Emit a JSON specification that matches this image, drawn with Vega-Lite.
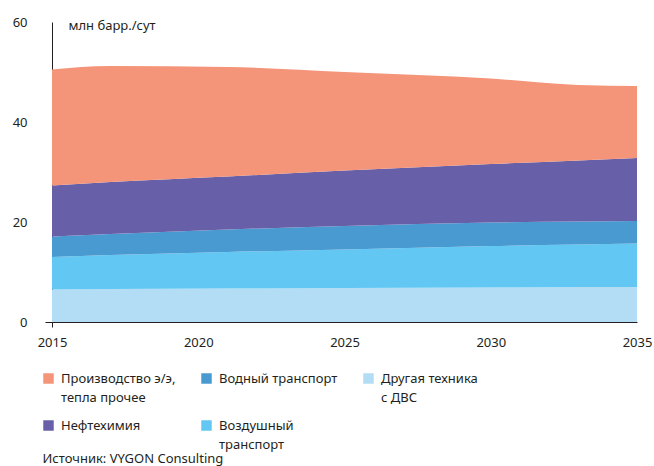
{
  "$schema": "https://vega.github.io/schema/vega-lite/v6.json",
  "width": 585,
  "height": 300,
  "autosize": {"type": "none"},
  "padding": {"left": 52, "top": 22, "right": 17, "bottom": 144},
  "background": "white",
  "config": {
    "view": {"stroke": null},
    "font": "Noto Sans",
    "style": {"guide-label": {"lineHeight": 19}}
  },
  "data": {
    "values": [
      {"year": 2015, "series": "Другая техника с ДВС", "value": 6.5},
      {"year": 2017, "series": "Другая техника с ДВС", "value": 6.6},
      {"year": 2021, "series": "Другая техника с ДВС", "value": 6.7},
      {"year": 2025, "series": "Другая техника с ДВС", "value": 6.8},
      {"year": 2030, "series": "Другая техника с ДВС", "value": 6.9},
      {"year": 2033, "series": "Другая техника с ДВС", "value": 7.0},
      {"year": 2035, "series": "Другая техника с ДВС", "value": 7.0},
      {"year": 2015, "series": "Воздушный транспорт", "value": 6.5},
      {"year": 2017, "series": "Воздушный транспорт", "value": 6.8},
      {"year": 2021, "series": "Воздушный транспорт", "value": 7.3},
      {"year": 2025, "series": "Воздушный транспорт", "value": 7.7},
      {"year": 2030, "series": "Воздушный транспорт", "value": 8.3},
      {"year": 2033, "series": "Воздушный транспорт", "value": 8.5},
      {"year": 2035, "series": "Воздушный транспорт", "value": 8.7},
      {"year": 2015, "series": "Водный транспорт", "value": 4.1},
      {"year": 2017, "series": "Водный транспорт", "value": 4.2},
      {"year": 2021, "series": "Водный транспорт", "value": 4.5},
      {"year": 2025, "series": "Водный транспорт", "value": 4.7},
      {"year": 2030, "series": "Водный транспорт", "value": 4.7},
      {"year": 2033, "series": "Водный транспорт", "value": 4.6},
      {"year": 2035, "series": "Водный транспорт", "value": 4.5},
      {"year": 2015, "series": "Нефтехимия", "value": 10.2},
      {"year": 2017, "series": "Нефтехимия", "value": 10.4},
      {"year": 2021, "series": "Нефтехимия", "value": 10.6},
      {"year": 2025, "series": "Нефтехимия", "value": 11.1},
      {"year": 2030, "series": "Нефтехимия", "value": 11.7},
      {"year": 2033, "series": "Нефтехимия", "value": 12.2},
      {"year": 2035, "series": "Нефтехимия", "value": 12.6},
      {"year": 2015, "series": "Производство э/э, тепла прочее", "value": 23.2},
      {"year": 2017, "series": "Производство э/э, тепла прочее", "value": 23.2},
      {"year": 2021, "series": "Производство э/э, тепла прочее", "value": 21.9},
      {"year": 2025, "series": "Производство э/э, тепла прочее", "value": 19.7},
      {"year": 2030, "series": "Производство э/э, тепла прочее", "value": 17.1},
      {"year": 2033, "series": "Производство э/э, тепла прочее", "value": 15.1},
      {"year": 2035, "series": "Производство э/э, тепла прочее", "value": 14.4}
    ]
  },
  "transform": [
    {"calculate": "indexof(['Другая техника с ДВС', 'Воздушный транспорт', 'Водный транспорт', 'Нефтехимия', 'Производство э/э, тепла прочее'], datum.series)", "as": "stackOrder"}
  ],
  "mark": {"type": "area", "interpolate": "monotone"},
  "encoding": {
    "x": {
      "field": "year",
      "type": "quantitative",
      "scale": {"domain": [2015, 2035], "nice": false, "zero": false},
      "axis": {
        "values": [2015, 2020, 2025, 2030, 2035],
        "format": "d",
        "grid": false,
        "labelFlush": false,
        "labelFontSize": 13,
        "labelColor": "#231F20",
        "labelPadding": 9,
        "tickSize": 5,
        "tickColor": {"condition": {"test": "datum.value == 2015", "value": "#231F20"}, "value": "transparent"},
        "domainColor": "#231F20",
        "title": "Источник: VYGON Consulting",
        "titleX": -10,
        "titleY": 136,
        "titleAlign": "left",
        "titleBaseline": "middle",
        "titleFontWeight": "normal",
        "titleFontSize": 13,
        "titleColor": "#231F20"
      }
    },
    "y": {
      "field": "value",
      "type": "quantitative",
      "stack": "zero",
      "scale": {"domain": [0, 60], "nice": false},
      "axis": {
        "values": [0, 20, 40, 60],
        "grid": false,
        "labelFontSize": 13,
        "labelColor": "#231F20",
        "labelPadding": 18,
        "tickSize": 7,
        "tickColor": {"condition": {"test": "datum.value == 0", "value": "#231F20"}, "value": "transparent"},
        "domainColor": "#231F20",
        "title": "млн барр./сут",
        "titleAngle": 0,
        "titleX": 16,
        "titleY": 7,
        "titleAlign": "left",
        "titleBaseline": "alphabetic",
        "titleFontWeight": "normal",
        "titleFontSize": 13,
        "titleColor": "#231F20"
      }
    },
    "color": {
      "field": "series",
      "type": "nominal",
      "scale": {
        "domain": ["Производство э/э, тепла прочее", "Водный транспорт", "Другая техника с ДВС", "Нефтехимия", "Воздушный транспорт"],
        "range": ["#F49478", "#4A9AD2", "#B2DDF5", "#6760A8", "#62C8F3"]
      },
      "legend": {
        "orient": "none",
        "legendX": -10,
        "legendY": 350,
        "direction": "horizontal",
        "columns": 3,
        "title": null,
        "symbolType": "square",
        "symbolSize": 110,
        "symbolStrokeWidth": 0,
        "symbolOpacity": 1,
        "labelFontSize": 13,
        "labelColor": "#231F20",
        "labelOffset": 6,
        "columnPadding": 24,
        "rowPadding": 14,
        "gridAlign": "none",
        "labelExpr": "datum.label == 'Производство э/э, тепла прочее' ? ['Производство э/э,', 'тепла прочее'] : datum.label == 'Воздушный транспорт' ? ['Воздушный', 'транспорт'] : datum.label == 'Другая техника с ДВС' ? ['Другая техника', 'с ДВС'] : datum.label"
      }
    },
    "order": {"field": "stackOrder", "type": "quantitative", "sort": "ascending"}
  }
}
